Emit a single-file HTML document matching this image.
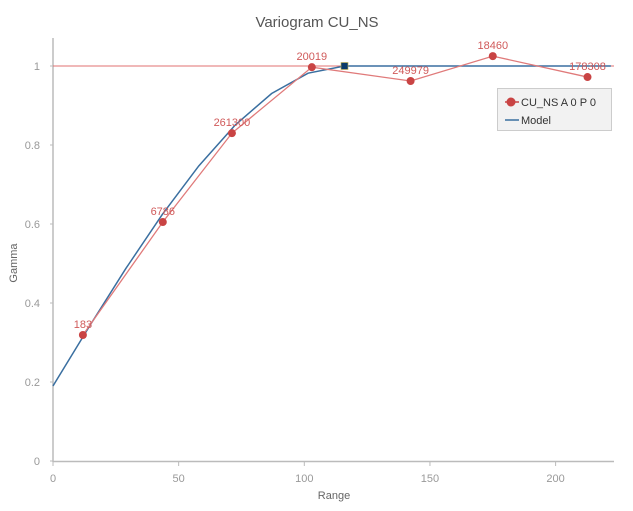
<!DOCTYPE html>
<html><head><meta charset="utf-8"><style>
body{margin:0;background:#fff;font-family:"Liberation Sans",sans-serif}
</style></head><body>
<svg id="c" width="633" height="506" xmlns="http://www.w3.org/2000/svg"></svg>
<script>
const lagX=[11.9,43.7,71.2,103,142.3,175,212.7];
const gammaY=[0.319,0.605,0.830,0.997,0.962,1.025,0.972];
const pairLabels=["183","6786","261300","20019","249979","18460","178308"];
const xTicks=[0,50,100,150,200];
const yTicks=[0,0.2,0.4,0.6,0.8,1];
const modelNugget=[0.19];
const modelSill=[1];
const modelRange=[116];
const svg=document.getElementById('c');
const NS='http://www.w3.org/2000/svg';
const X=v=>53+v*2.513, Y=v=>461-v*395;
function mk(t,a,txt){const e=document.createElementNS(NS,t);for(const k in a)e.setAttribute(k,a[k]);if(txt!=null)e.textContent=txt;svg.appendChild(e);return e;}
let e;
e=mk('text',{x:317,y:27,'text-anchor':'middle','font-size':15,fill:'#555'},'Variogram CU_NS');


e=mk('line',{x1:53,y1:38,x2:53,y2:462,stroke:'#bbb','stroke-width':1.5});


e=mk('line',{x1:53,y1:461.5,x2:614,y2:461.5,stroke:'#bbb','stroke-width':1.5});


yTicks.forEach(t=>{
 e=mk('text',{x:40,y:Y(t)+4,'text-anchor':'end','font-size':11,fill:'#999'},String(t));
 
 
 mk('line',{x1:50,y1:Y(t),x2:53,y2:Y(t),stroke:'#bbb'});
});
xTicks.forEach(t=>{
 e=mk('text',{x:X(t),y:482,'text-anchor':'middle','font-size':11,fill:'#999'},String(t));
 
 
 mk('line',{x1:X(t),y1:462,x2:X(t),y2:466,stroke:'#bbb'});
});
e=mk('text',{x:334,y:499,'text-anchor':'middle','font-size':11,fill:'#666'},'Range');


e=mk('text',{x:0,y:0,transform:'translate(17,263) rotate(-90)','text-anchor':'middle','font-size':11,fill:'#666'},'Gamma');


e=mk('line',{x1:53,y1:Y(modelSill[0]),x2:614,y2:Y(modelSill[0]),stroke:'#e07070','stroke-width':1});


const c0=modelNugget[0],s=modelSill[0],a=modelRange[0];
let pts=[];
for(let k=0;k<=8;k++){const h=a*k/8,r=h/a;pts.push(X(h)+','+Y(c0+(s-c0)*(1.5*r-0.5*r*r*r)));}
pts.push(X(222)+','+Y(s));
e=mk('polyline',{points:pts.join(' '),fill:'none',stroke:'#3a6fa0','stroke-width':1.5});


e=mk('rect',{x:X(a)-3.5,y:Y(s)-3.5,width:7,height:7,fill:'#0a3a6a',stroke:'#c9b44a','stroke-width':0.6});


e=mk('polyline',{points:lagX.map((x,i)=>X(x)+','+Y(gammaY[i])).join(' '),fill:'none',stroke:'#e07a7a','stroke-width':1.3});


lagX.forEach((x,i)=>{
 e=mk('circle',{cx:X(x),cy:Y(gammaY[i]),r:4,fill:'#c94444'});
 
 
 e=mk('text',{x:X(x),y:Y(gammaY[i])-7,'text-anchor':'middle','font-size':11,fill:'#d05a5a'},pairLabels[i]);
 
 
});
const g=document.createElementNS(NS,'g');svg.appendChild(g);


g.innerHTML='<rect x="497.5" y="88.5" width="114" height="42" fill="#f2f2f2" stroke="#ccc"/>'+
'<line x1="505" y1="102" x2="519" y2="102" stroke="#c94444" stroke-width="1.5"/><circle cx="511" cy="102" r="4.5" fill="#c94444"/>'+
'<text x="521" y="106" font-size="11" fill="#333">CU_NS A 0 P 0</text>'+
'<line x1="505" y1="120" x2="519" y2="120" stroke="#3a6fa0" stroke-width="1.5"/>'+
'<text x="521" y="124" font-size="11" fill="#333">Model</text>';
</script>
</body></html>
